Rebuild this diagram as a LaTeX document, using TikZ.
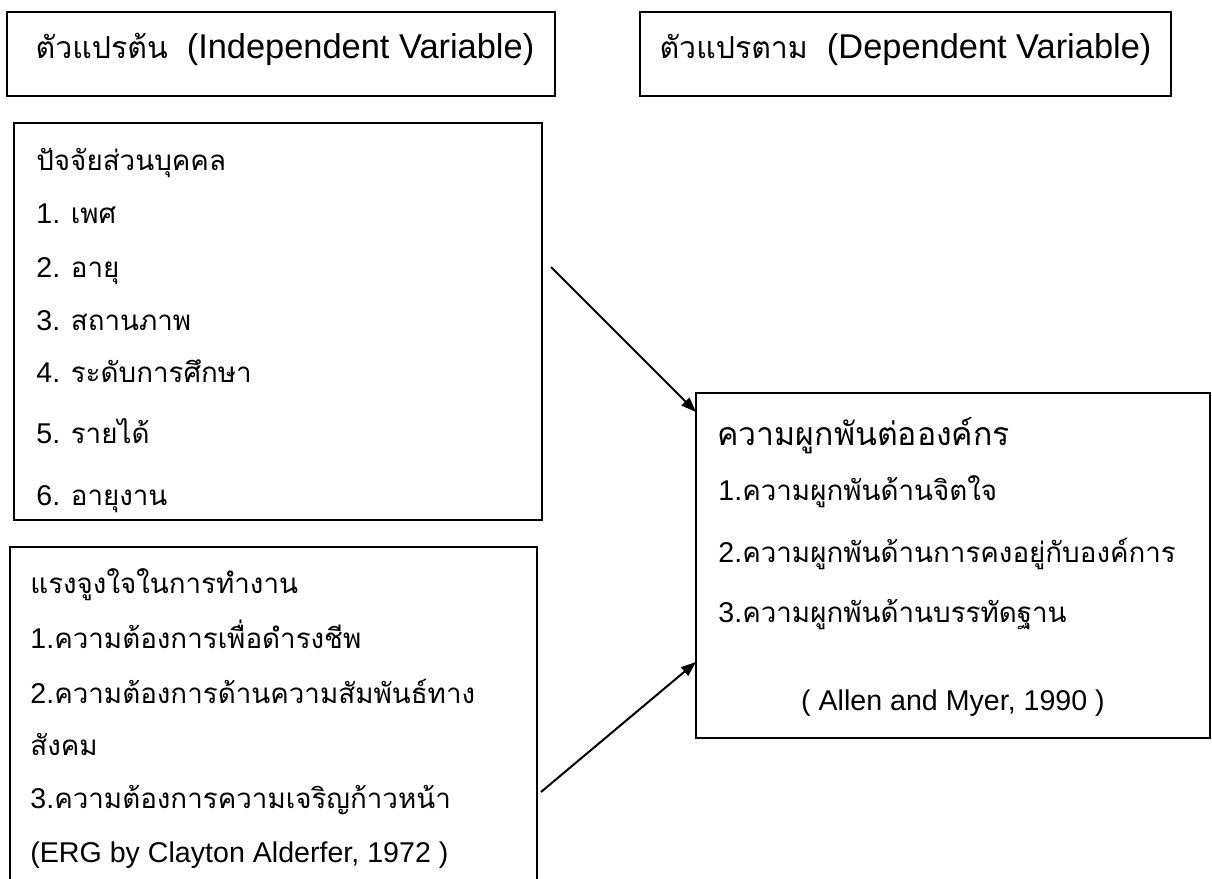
\documentclass[tikz,border=0pt]{standalone}
\usepackage{fontspec}
\setmainfont{Liberation Sans}
\newfontfamily\thaifont[Script=Thai,Scale=0.97]{Loma}
\newfontfamily\thaiheadfont[Script=Thai,Scale=0.88]{Loma}
\newcommand{\thai}[1]{{\thaifont #1}}
\newcommand{\thaihead}[1]{{\thaiheadfont #1}}
\usetikzlibrary{arrows.meta,positioning}

\begin{document}
\begin{tikzpicture}[x=0.5pt, y=-0.5pt,
    box/.style={draw, line width=1pt, inner sep=0pt, outer sep=0pt, anchor=north west},
    head/.style={inner sep=0pt, anchor=base, font=\fontsize{17.2}{20}\selectfont},
    title/.style={inner sep=0pt, anchor=base west, font=\fontsize{16.5}{19}\selectfont},
    item/.style={inner sep=0pt, anchor=base west, font=\fontsize{14.3}{16}\selectfont},
    link/.style={line width=1pt, -{Triangle[length=7.5pt, width=5.5pt]}}]
    %%%%% FRAME %%%%%
    \fill[white] (0,0) rectangle (1212,879);
    \useasboundingbox (0,0) rectangle (1212,879);

    %%%%% HEADERS %%%%%
    \node[box, minimum width=274pt, minimum height=42pt] (indep) at (7,12) {};
    \node[box, minimum width=265.5pt, minimum height=42pt] (dep) at (640,12) {};
    \node[head] (indepLbl) at ([xshift=2pt, yshift=-2pt]indep.center) {\thaihead{ตัวแปรต้น}~~(Independent Variable)};
    \node[head] (depLbl) at ([yshift=-2pt]dep.center) {\thaihead{ตัวแปรตาม}~~(Dependent Variable)};

    %%%%% PERSONAL FACTORS %%%%%
    \node[box, minimum width=264pt, minimum height=198.5pt] (pers) at (14,123) {};
    \foreach \y/\t [count=\i] in {170/{\thai{ปัจจัยส่วนบุคคล}}, 223/{1. \thai{เพศ}},
        277/{2. \thai{อายุ}}, 330/{3. \thai{สถานภาพ}}, 382/{4. \thai{ระดับการศึกษา}},
        443/{5. \thai{รายได้}}, 505/{6. \thai{อายุงาน}}}
        \node[item] (pers\i) at (36,\y) {\t};

    %%%%% MOTIVATION %%%%%
    \node[box, minimum width=263.5pt, minimum height=210pt] (motiv) at (10,547) {};
    \foreach \y/\t [count=\i] in {593/{\thai{แรงจูงใจในการทำงาน}}, 648/{1.\thai{ความต้องการเพื่อดำรงชีพ}},
        703/{2.\thai{ความต้องการด้านความสัมพันธ์ทาง}}, 755/{\thai{สังคม}},
        808/{3.\thai{ความต้องการความเจริญก้าวหน้า}}, 862/{(ERG by Clayton Alderfer, 1972 )}}
        \node[item] (motiv\i) at (30,\y) {\t};

    %%%%% COMMITMENT %%%%%
    \node[box, minimum width=257pt, minimum height=172.5pt] (comm) at (696,393) {};
    \node[title] (commTtl) at (717,445) {\thai{ความผูกพันต่อองค์กร}};
    \foreach \y/\t [count=\i] in {500/{1.\thai{ความผูกพันด้านจิตใจ}},
        562/{2.\thai{ความผูกพันด้านการคงอยู่กับองค์การ}}, 622/{3.\thai{ความผูกพันด้านบรรทัดฐาน}}}
        \node[item] (comm\i) at (718,\y) {\t};
    \node[item, anchor=base] (commRef) at (953,710) {( Allen and Myer, 1990 )};

    %%%%% LINKS %%%%%
    \coordinate (persOut) at (551,267);
    \coordinate (motivOut) at (541,792);
    \draw[link] (persOut) -- ([yshift=-9.5pt]comm.north west);
    \draw[link] (motivOut) -- ([yshift=38pt]comm.south west);
\end{tikzpicture}
\end{document}
